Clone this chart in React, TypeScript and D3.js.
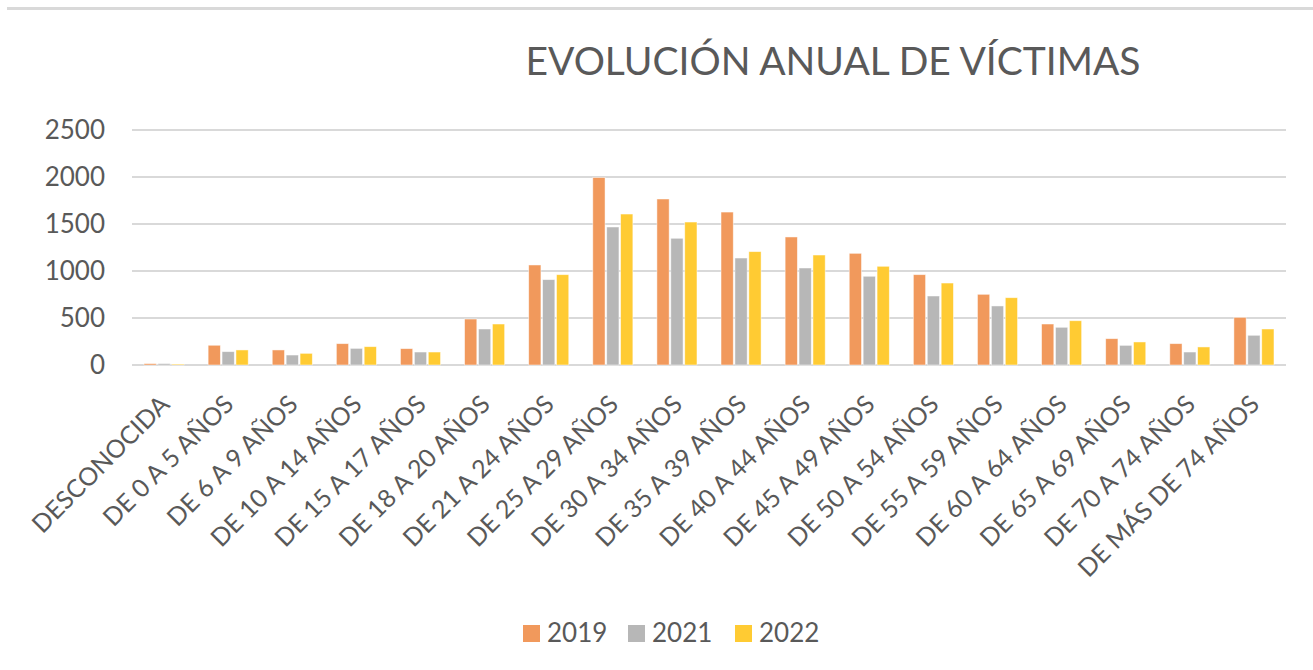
import React, { useEffect, useRef } from 'react'
import * as d3 from 'd3'

const categories = [
  'DESCONOCIDA', 'DE 0 A 5 AÑOS', 'DE 6 A 9 AÑOS', 'DE 10 A 14 AÑOS', 'DE 15 A 17 AÑOS',
  'DE 18 A 20 AÑOS', 'DE 21 A 24 AÑOS', 'DE 25 A 29 AÑOS', 'DE 30 A 34 AÑOS', 'DE 35 A 39 AÑOS',
  'DE 40 A 44 AÑOS', 'DE 45 A 49 AÑOS', 'DE 50 A 54 AÑOS', 'DE 55 A 59 AÑOS', 'DE 60 A 64 AÑOS',
  'DE 65 A 69 AÑOS', 'DE 70 A 74 AÑOS', 'DE MÁS DE 74 AÑOS',
]
const years = ['2019', '2021', '2022']
const values2019 = [15, 210, 160, 227, 174, 489, 1064, 1995, 1766, 1627, 1362, 1188, 961, 752, 436, 280, 227, 507]
const values2021 = [15, 142, 106, 177, 138, 383, 908, 1468, 1348, 1138, 1032, 944, 734, 628, 401, 209, 138, 316]
const values2022 = [10, 160, 124, 195, 138, 436, 961, 1606, 1521, 1206, 1170, 1050, 872, 716, 471, 245, 192, 383]
const yTicks = [0, 500, 1000, 1500, 2000, 2500]
const colors = ['#F1995C', '#B7B7B7', '#FFCB33']

const FONT = 'Lato, "Open Sans", sans-serif'
const TEXT = '#595959'

const App = () => {
  const ref = useRef<SVGSVGElement>(null)

  useEffect(() => {
    const svg = d3.select(ref.current)
    svg.selectAll('*').remove()

    const series = [values2019, values2021, values2022]
    const left = 132, right = 1286, top = 130, bottom = 365

    // frame line at the top
    svg.append('line')
      .attr('x1', 7).attr('x2', 1313).attr('y1', 8.5).attr('y2', 8.5)
      .attr('stroke', '#D9D9D9').attr('stroke-width', 3)

    svg.append('text')
      .attr('x', 833).attr('y', 75)
      .attr('text-anchor', 'middle')
      .attr('font-family', FONT).attr('font-size', 39)
      .attr('fill', TEXT)
      .text('EVOLUCIÓN ANUAL DE VÍCTIMAS')

    const x0 = d3.scaleBand().domain(categories).range([left, right])
      .paddingInner(0.375).paddingOuter(0.1875)
    const x1 = d3.scaleBand().domain(years).range([0, x0.bandwidth()]).paddingInner(0.12)
    const y = d3.scaleLinear().domain([0, 2500]).range([bottom, top])

    const grid = svg.append('g')
    grid.selectAll('line').data(yTicks).enter().append('line')
      .attr('x1', left).attr('x2', right)
      .attr('y1', d => y(d)).attr('y2', d => y(d))
      .attr('stroke', '#D9D9D9').attr('stroke-width', 2)

    svg.append('g').selectAll('text').data(yTicks).enter().append('text')
      .attr('x', left - 27).attr('y', d => y(d))
      .attr('dy', '0.36em')
      .attr('text-anchor', 'end')
      .attr('font-family', FONT).attr('font-size', 26)
      .attr('fill', TEXT)
      .text(d => d)

    const groups = svg.append('g').selectAll('g').data(categories).enter().append('g')
      .attr('transform', d => `translate(${x0(d)},0)`)

    groups.selectAll('rect')
      .data((_, i) => years.map((yr, s) => ({ yr, s, v: series[s][i] })))
      .enter().append('rect')
      .attr('x', d => x1(d.yr) as number)
      .attr('width', x1.bandwidth())
      .attr('y', d => y(d.v))
      .attr('height', d => y(0) - y(d.v))
      .attr('fill', d => colors[d.s])
      .attr('stroke', '#fff').attr('stroke-opacity', 0.6).attr('stroke-width', 0.8)

    svg.append('g').selectAll('text').data(categories).enter().append('text')
      .attr('transform', d => `translate(${(x0(d) as number) + x0.bandwidth() / 2 + 7},406) rotate(-45)`)
      .attr('text-anchor', 'end')
      .attr('font-family', FONT).attr('font-size', 25)
      .attr('fill', TEXT)
      .text(d => d)

    // legend
    const legendX = [523, 628, 735]
    const legend = svg.append('g').selectAll('g').data(years).enter().append('g')
      .attr('transform', (_, i) => `translate(${legendX[i]},625)`)
    legend.append('rect')
      .attr('width', 17).attr('height', 17)
      .attr('fill', (_, i) => colors[i])
    legend.append('text')
      .attr('x', 24).attr('y', 17)
      .attr('font-family', FONT).attr('font-size', 26)
      .attr('fill', TEXT)
      .text(d => d)
  }, [])

  return (
    <svg ref={ref} width={1313} height={670}
      style={{ position: 'absolute', left: 0, top: 0, background: '#fff' }} />
  )
}

export default App
